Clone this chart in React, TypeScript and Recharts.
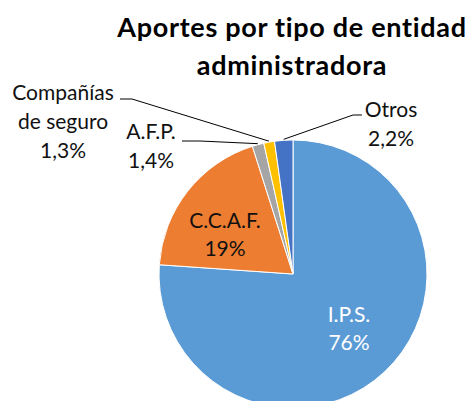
import { PieChart, Pie, Cell } from 'recharts';

const categories = ['I.P.S.', 'C.C.A.F.', 'A.F.P.', 'Compañías de seguro', 'Otros'];
const shares = [76.1, 19.0, 1.4, 1.3, 2.2];
const shareLabels = ['76%', '19%', '1,4%', '1,3%', '2,2%'];
const titleLines = ['Aportes por tipo de entidad', 'administradora'];

const COLORS = ['#5B9BD5', '#ED7D31', '#A5A5A5', '#FFC000', '#4472C4'];
const TEXT_COLORS = ['#ffffff', '#111111', '#111111', '#111111', '#111111'];
const FONT = "Lato, 'Open Sans', sans-serif";

const CX = 293;
const CY = 274;
const RADIUS = 134;

// label placement relative to pie centre (Excel style manual positions)
const LABEL_LAYOUT = [
  { dx: 56, dy: 48, step: 28 },
  { dx: -68, dy: -46, step: 28 },
  { dx: -142, dy: -135, step: 29, end: [-111, -133], elbow: [-93, -133] },
  { dx: -230, dy: -174, step: 29, end: [-173, -175], elbow: [-161, -175] },
  { dx: 98, dy: -157, step: 29, end: [69, -159], elbow: [60, -159] },
];

const data = categories.map((name, i) => ({ name, value: shares[i] }));

// wrap long category names into short lines
const wrap = (text: string, max = 10) => {
  const lines: string[] = [];
  let cur = '';
  text.split(' ').forEach((w) => {
    if (cur && (cur + ' ' + w).length > max) {
      lines.push(cur);
      cur = w;
    } else {
      cur = cur ? cur + ' ' + w : w;
    }
  });
  if (cur) lines.push(cur);
  return lines;
};

const RAD = Math.PI / 180;

const renderLabel = (props: any) => {
  const { cx, cy, midAngle, outerRadius, index } = props;
  const layout = LABEL_LAYOUT[index];
  const lines = [...wrap(categories[index]), shareLabels[index]];
  const x = cx + layout.dx;
  const y0 = cy + layout.dy;
  let leader = null;
  if (layout.end && layout.elbow) {
    const ex = cx + (outerRadius + 1) * Math.cos(-midAngle * RAD);
    const ey = cy + (outerRadius + 1) * Math.sin(-midAngle * RAD);
    const pts = [
      [cx + layout.end[0], cy + layout.end[1]],
      [cx + layout.elbow[0], cy + layout.elbow[1]],
      [ex, ey],
    ];
    leader = (
      <polyline
        points={pts.map((p) => p.join(',')).join(' ')}
        fill="none"
        stroke="#000"
        strokeWidth={1}
      />
    );
  }
  return (
    <g key={`lbl-${index}`}>
      {leader}
      <text
        x={x}
        y={y0}
        textAnchor="middle"
        fill={TEXT_COLORS[index]}
        fontFamily={FONT}
        fontSize={21}
      >
        {lines.map((l, i) => (
          <tspan key={i} x={x} y={y0 + i * layout.step}>
            {l}
          </tspan>
        ))}
      </text>
    </g>
  );
};

export default function App() {
  return (
    <div style={{ position: 'absolute', left: 0, top: 0, width: 474, height: 401, background: '#fff' }}>
      <PieChart width={474} height={401} margin={{ top: 0, right: 0, bottom: 0, left: 0 }}>
        <text
          x={292}
          y={37}
          textAnchor="middle"
          fontFamily={FONT}
          fontWeight="bold"
          fontSize={27}
          letterSpacing={0.7}
          fill="#000"
        >
          <tspan x={292} y={37}>{titleLines[0]}</tspan>
          <tspan x={292} y={75}>{titleLines[1]}</tspan>
        </text>
        <Pie
          data={data}
          dataKey="value"
          nameKey="name"
          cx={CX}
          cy={CY}
          outerRadius={RADIUS}
          startAngle={90}
          endAngle={-270}
          stroke="#ffffff"
          strokeWidth={1}
          label={renderLabel}
          labelLine={false}
          isAnimationActive={false}
        >
          {data.map((d, i) => (
            <Cell key={d.name} fill={COLORS[i]} />
          ))}
        </Pie>
      </PieChart>
    </div>
  );
}
